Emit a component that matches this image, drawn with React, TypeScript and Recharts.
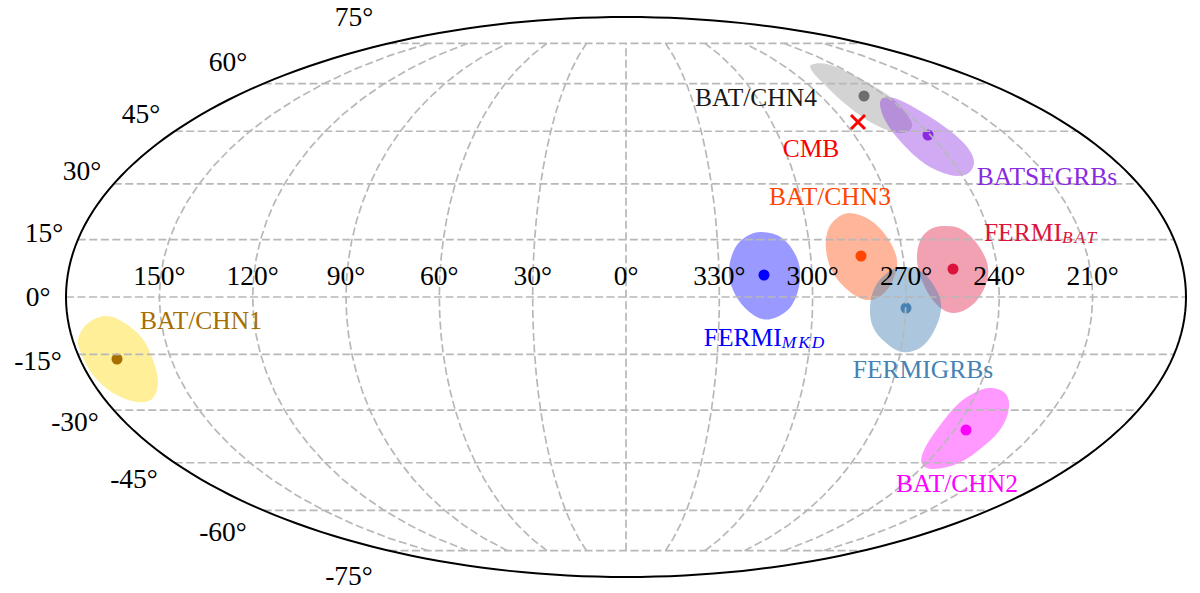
import React from "react";
import { ScatterChart, Scatter, XAxis, YAxis, Curve } from "recharts";

// All plane coordinates are Mollweide-plane units.
const blobGray = [[185,232],[201,233],[221,225],[244,213],[267,198],[282,181],[286,170],[277,164],[261,167],[241,177],[217,195],[197,214],[186,226]];
const blobPurple = [[257,199],[271,198],[296,185],[323,167],[342,149],[348,134],[341,123],[324,122],[299,133],[275,155],[260,175],[254,192]];
const blobBlue = [[136,65],[156,59],[171,39],[174,17],[166,-8],[151,-20],[136,-22],[119,-11],[107,7],[103,27],[109,49],[121,61]];
const blobOrange = [[224,84],[244,77],[261,60],[271,37],[267,17],[256,2],[241,-3],[224,5],[207,24],[200,47],[202,67],[211,79]];
const blobCrimson = [[317,71],[335,68],[352,52],[362,30],[358,8],[345,-9],[327,-16],[311,-8],[297,14],[291,37],[294,56],[303,67]];
const blobSteel = [[277,30],[297,24],[312,4],[315,-13],[307,-36],[294,-51],[276,-55],[259,-45],[247,-30],[244,-10],[249,10],[261,24]];
const blobMagenta = [[364,-91],[379,-96],[383,-110],[376,-130],[359,-148],[333,-166],[307,-172],[296,-167],[298,-153],[312,-131],[332,-107],[350,-95]];
const blobYellow = [[-521,-19],[-503,-25],[-484,-41],[-473,-63],[-468,-86],[-474,-102],[-489,-105],[-513,-96],[-533,-78],[-544,-58],[-548,-43],[-539,-27]];

const blobs = [
  { pts: blobGray, fill: "#808080", dot: "#6e6e6e", c: [238, 201], alpha: 0.35 },
  { pts: blobYellow, fill: "#ffd700", dot: "#a66f00", c: [-509, -62], alpha: 0.4 },
  { pts: blobMagenta, fill: "#ff00ff", dot: "#ff00ff", c: [340, -133], alpha: 0.4 },
  { pts: blobOrange, fill: "#ff4500", dot: "#ff4500", c: [235, 41], alpha: 0.4 },
  { pts: blobCrimson, fill: "#dc143c", dot: "#dc143c", c: [327, 28], alpha: 0.4 },
  { pts: blobBlue, fill: "#0000ff", dot: "#0000ff", c: [138, 22], alpha: 0.4 },
  { pts: blobSteel, fill: "#4682b4", dot: "#4682b4", c: [280, -11], alpha: 0.45 },
  { pts: blobPurple, fill: "#8a2be2", dot: "#8a2be2", c: [302, 162], alpha: 0.4 },
];

const cmbPoint = [{ x: 232, y: 175 }];

const labelTexts = ["BAT/CHN4", "CMB", "BAT/CHN3", "BATSEGRBs", "FERMI", "FERMI", "FERMIGRBs", "BAT/CHN2", "BAT/CHN1"];
const labelSubs = ["", "", "", "", "BAT", "MKD", "", "", ""];
const labelX = [130, 185, 204, 421, 415, 139, 297, 331, -425];
const labelY = [200, 149, 101, 121, 65, -40, -72, -186, -23];
const labelColors = ["#1a1a1a", "#ff0000", "#ff4500", "#8a2be2", "#dc143c", "#0000ff", "#4682b4", "#ff00ff", "#a66f00"];

const latLabels = ["75°", "60°", "45°", "30°", "15°", "0°", "-15°", "-30°", "-45°", "-60°", "-75°"];
const latLabelX = [-272, -398, -485, -544, -582, -588, -588, -551, -492, -403, -277];
const latLabelY = [281, 236, 184, 127, 65, 1, -63, -124, -181, -234, -278];

const lonLabels = ["150°", "120°", "90°", "60°", "30°", "0°", "330°", "300°", "270°", "240°", "210°"];
const lonOffsets = [-150, -120, -90, -60, -30, 0, 30, 60, 90, 120, 150];

const parallels = [75, 60, 45, 30, 15, 0, -15, -30, -45, -60, -75];
const meridianLats = [-75, -70, -65, -60, -55, -50, -45, -40, -35, -30, -25, -20, -15, -10, -5, 0, 5, 10, 15, 20, 25, 30, 35, 40, 45, 50, 55, 60, 65, 70, 75];

const RX = 560;
const RY = 280;

function auxAngle(latDeg: number) {
  const phi = (latDeg * Math.PI) / 180;
  let t = phi;
  for (let i = 0; i < 40; i++) {
    const d = (2 * t + Math.sin(2 * t) - Math.PI * Math.sin(phi)) / (2 + 2 * Math.cos(2 * t) || 1e-6);
    t -= d;
  }
  return t;
}
function project(lonDeg: number, latDeg: number) {
  const t = auxAngle(latDeg);
  return { x: (RX * lonDeg * Math.cos(t)) / 180, y: RY * Math.sin(t) };
}

const boundary = Array.from({ length: 241 }, (_, i) => {
  const t = (i / 240) * 2 * Math.PI;
  return { x: RX * Math.cos(t), y: RY * Math.sin(t) };
});

const FONT = "'Liberation Serif', serif";
const GRID = "#b8b8b8";

const Nothing = () => <g />;

function closedSmooth(points: { x: number; y: number }[]) {
  const n = points.length;
  const tangent = (i: number) => {
    const a = points[(i - 1 + n) % n];
    const b = points[(i + 1) % n];
    const dx = b.x - a.x;
    const dy = b.y - a.y;
    const len = Math.hypot(dx, dy) || 1;
    return { x: dx / len, y: dy / len };
  };
  let d = `M${points[0].x},${points[0].y}`;
  for (let i = 0; i < n; i++) {
    const p1 = points[i];
    const p2 = points[(i + 1) % n];
    const seg = Math.hypot(p2.x - p1.x, p2.y - p1.y) / 3;
    const t1 = tangent(i);
    const t2 = tangent((i + 1) % n);
    d += `C${p1.x + t1.x * seg},${p1.y + t1.y * seg} ${p2.x - t2.x * seg},${p2.y - t2.y * seg} ${p2.x},${p2.y}`;
  }
  return d + "Z";
}

const gridLine = (p: any) => (
  <Curve points={p.points} type="linear" stroke={GRID} strokeWidth={1.7} strokeDasharray="8 3.5" fill="none" />
);
const borderLine = (p: any) => <Curve points={p.points} type="linear" stroke="#000" strokeWidth={2} fill="none" />;
const blobLine = (fill: string, alpha: number) => (p: any) => <path d={closedSmooth(p.points)} fill={fill} fillOpacity={alpha} stroke="none" />;

const textShape = (size: number) => (p: any) => (
  <text x={p.cx} y={p.cy} textAnchor="middle" dominantBaseline="central" fontFamily={FONT} fontSize={size} fill={p.payload.color || "#000"}>
    {p.payload.text}
    {p.payload.sub ? (
      <tspan dy={5} fontSize={size * 0.68} fontStyle="italic" letterSpacing={2}>
        {p.payload.sub}
      </tspan>
    ) : null}
  </text>
);

const dotShape = (p: any) => <circle cx={p.cx} cy={p.cy} r={5.5} fill={p.payload.color} />;
const crossShape = (p: any) => (
  <path d={`M${p.cx - 7},${p.cy - 7}L${p.cx + 7},${p.cy + 7}M${p.cx - 7},${p.cy + 7}L${p.cx + 7},${p.cy - 7}`} stroke="#ff0000" strokeWidth={3} fill="none" />
);

export default function App() {
  const tag = (a: number[]) => ({ x: a[0], y: a[1] });
  const labels = labelTexts.map((text, i) => ({ x: labelX[i], y: labelY[i], text, sub: labelSubs[i], color: labelColors[i] }));
  const lats = latLabels.map((text, i) => ({ x: latLabelX[i], y: latLabelY[i], text }));
  const lons = lonLabels.map((text, i) => ({ x: project(lonOffsets[i], 0).x, y: 22, text }));
  return (
    <div style={{ position: "absolute", left: 0, top: 0, background: "#fff" }}>
      <ScatterChart width={1200} height={593} margin={{ top: 0, right: 0, bottom: 0, left: 0 }}>
        <XAxis type="number" dataKey="x" domain={[-626, 574]} hide />
        <YAxis type="number" dataKey="y" domain={[-296, 297]} hide />
        {blobs.map((b, i) => (
          <Scatter key={"b" + i} data={b.pts.map(tag)} line={blobLine(b.fill, b.alpha)} shape={Nothing} isAnimationActive={false} />
        ))}
        <Scatter data={blobs.map((b) => ({ x: b.c[0], y: b.c[1], color: b.dot }))} shape={dotShape} isAnimationActive={false} />
        {parallels.map((lat) => {
          const p = project(180, lat);
          return <Scatter key={"p" + lat} data={[{ x: -p.x, y: p.y }, { x: p.x, y: p.y }]} line={gridLine} shape={Nothing} isAnimationActive={false} />;
        })}
        {lonOffsets.map((lon) => (
          <Scatter key={"m" + lon} data={meridianLats.map((lat) => project(lon, lat))} line={gridLine} shape={Nothing} isAnimationActive={false} />
        ))}
        <Scatter data={boundary} line={borderLine} shape={Nothing} isAnimationActive={false} />
        <Scatter data={cmbPoint} shape={crossShape} isAnimationActive={false} />
        <Scatter data={labels} shape={textShape(25.5)} isAnimationActive={false} />
        <Scatter data={lats} shape={textShape(27.5)} isAnimationActive={false} />
        <Scatter data={lons} shape={textShape(27.5)} isAnimationActive={false} />
      </ScatterChart>
    </div>
  );
}
